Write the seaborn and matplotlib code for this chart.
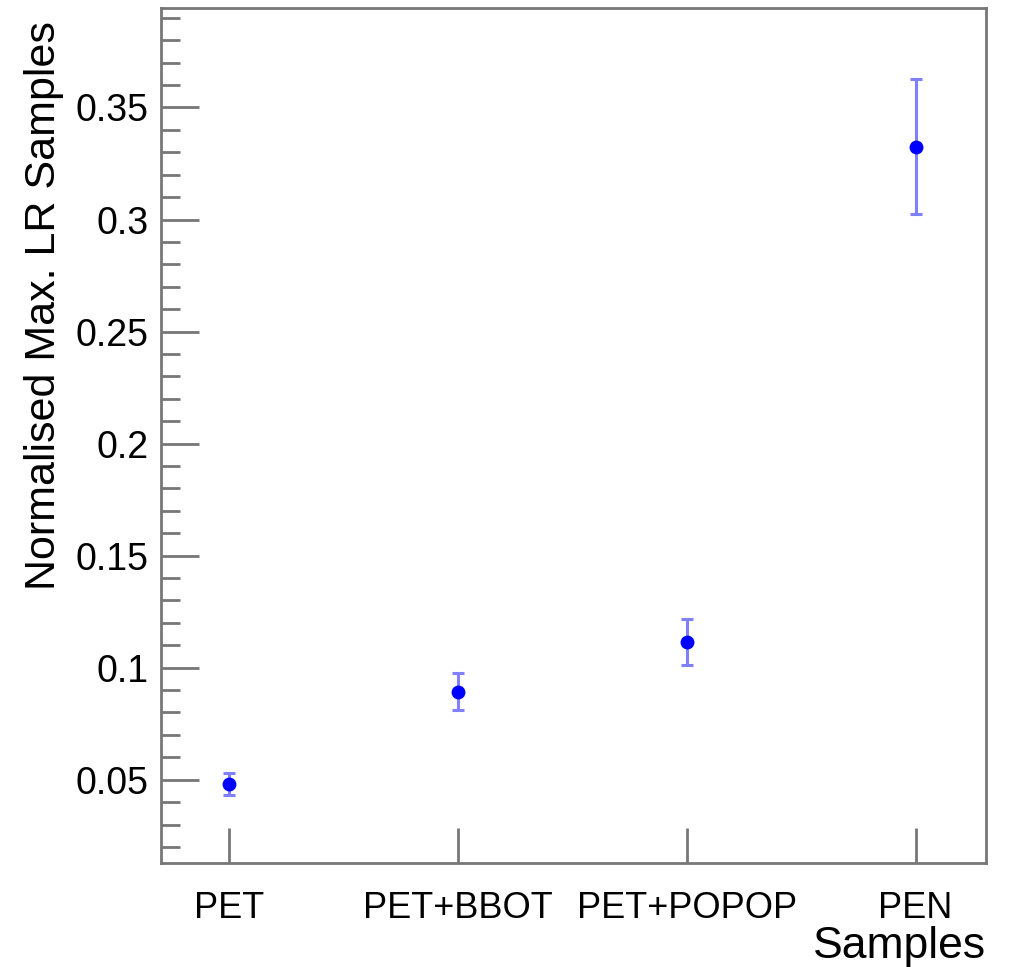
import matplotlib
matplotlib.use("Agg")
import matplotlib.pyplot as plt
import seaborn as sns
import pandas as pd
from matplotlib.ticker import MultipleLocator, FuncFormatter

samples = ["PET", "PET+BBOT", "PET+POPOP", "PEN"]
values = [0.0482, 0.0893, 0.1115, 0.3325]
errors = [0.0049, 0.0083, 0.0103, 0.0302]

df = pd.DataFrame({"Samples": samples, "value": values, "err": errors})

sns.set_theme(style="white")
plt.rcParams["font.family"] = ["Liberation Sans", "DejaVu Sans"]
plt.rcParams["text.color"] = "black"
plt.rcParams["axes.labelcolor"] = "black"
plt.rcParams["xtick.labelcolor"] = "black"
plt.rcParams["ytick.labelcolor"] = "black"

fig = plt.figure(figsize=(10.12, 9.67), dpi=100)
ax = fig.add_axes([0.159, 0.1075, 0.815, 0.884])

xpos = list(range(len(samples)))
ax.errorbar(xpos, df["value"], yerr=df["err"], fmt="none",
            ecolor=(0.5, 0.5, 1.0), elinewidth=2.2, capsize=4, capthick=2.2, zorder=2)
sns.scatterplot(x=xpos, y=df["value"], ax=ax, color="#0000ff", s=100,
                edgecolor="#0000ff", linewidth=0, zorder=3)

ax.set_xlim(-0.297, 3.306)
ax.set_ylim(0.0128, 0.3943)
ax.set_xticks(xpos)
ax.set_xticklabels(samples)
ax.yaxis.set_major_locator(MultipleLocator(0.05))
ax.yaxis.set_minor_locator(MultipleLocator(0.01))
ax.yaxis.set_major_formatter(FuncFormatter(lambda v, p: "%g" % round(v, 4)))

for s in ax.spines.values():
    s.set_color("#777777")
    s.set_linewidth(2)

ax.tick_params(axis="y", which="major", direction="in", length=27, width=2,
               color="#777777", labelsize=27, pad=9, right=False, left=True)
ax.tick_params(axis="y", which="minor", direction="in", length=14, width=2,
               color="#777777", right=False, left=True)
ax.tick_params(axis="x", which="major", direction="in", length=25, width=2,
               color="#777777", labelsize=26, pad=20, top=False, bottom=True)
ax.tick_params(axis="x", which="minor", bottom=False, top=False)

ax.set_xlabel("Samples", fontsize=32, ha="right", x=1.0, labelpad=0)
ax.set_ylabel("Normalised Max. LR Samples", fontsize=31, ha="right", y=0.985, labelpad=8)

fig.savefig("out.png", dpi=100, facecolor="white")
